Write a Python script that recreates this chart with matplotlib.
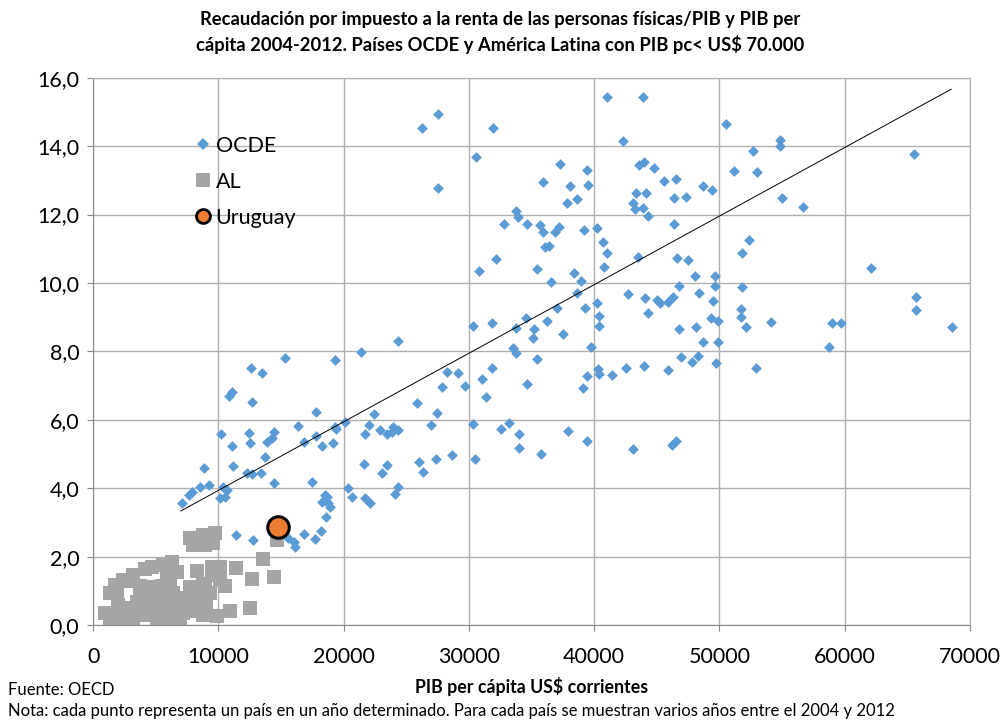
import numpy as np
import matplotlib
matplotlib.use('Agg')
import matplotlib.pyplot as plt
from matplotlib.lines import Line2D
from matplotlib.ticker import FuncFormatter

plt.rcParams['font.family'] = ['Lato', 'DejaVu Sans']

# OCDE: PIB per cápita (US$) and recaudación IRPF / PIB (%)
ocde_x = [7080, 7690, 7880, 8540, 9260, 10400, 10670, 10140, 10530, 14450, 11390, 12790,
          15320, 19310, 12610, 13510, 11120, 10880, 12710, 17770, 20110, 10220, 12450, 12530,
          11120, 14470, 16380, 16860, 13860, 14260, 17800, 18250, 19310, 13730, 8880, 11200,
          12270, 12670, 13380, 17450, 18520, 20380,
          24320, 21360, 28230, 29160, 27830, 29690, 25830, 27480, 22440, 19390, 19180, 22030,
          21710, 22910, 23490, 23970, 24370, 23830, 26970, 28630, 27350, 26020, 26360, 21650,
          23430, 23040, 24320, 24100, 20640, 21710, 22110, 18250, 18640, 18780, 18910, 18600,
          16840, 18170, 17720, 15590, 16040, 16120,
          27500, 26280, 31950, 30540, 27510, 37270, 35940, 38070, 37850, 38650, 33730, 33950,
          32800, 34610, 35670, 35940, 37210, 36870, 36070, 36390,
          39480, 39450, 39190, 40250, 40730, 41000, 43920, 50520, 54830, 54830, 42320, 52700,
          43600, 43970, 44800, 51160, 53020, 43340, 44130, 45600, 46530, 48660, 49370, 46400,
          47330, 43070, 43260, 43870, 44320, 46370, 52380,
          65520, 54990, 56690, 62060, 65730, 65730, 54140, 58950, 59670, 68530, 58770,
          51770, 46580, 47460, 48040, 49640, 49640, 46770, 51770, 44050, 44990, 45250, 45920,
          46320, 48360, 49450, 44320, 51690, 51690, 49300, 49860, 52110, 46770, 48120, 48660,
          49860, 46930, 48310, 47780, 49690, 43980, 45920, 52910, 46180, 46530,
          41000, 43470, 32160, 30810, 35410, 38410, 40810, 38920, 36550, 38600, 42670, 40250,
          39270, 37010, 40380, 40380, 34560, 36260, 31820, 30350, 33760, 35220, 35140, 37490,
          39720, 33500, 33760, 35410, 31820, 40330, 40410, 41440, 39400, 42540, 31070, 31340,
          34610, 39080, 30350, 32540, 33200, 34020, 37930, 39400, 34020, 30490, 35750, 43070]
ocde_y = [3.56, 3.80, 3.90, 4.04, 4.09, 4.04, 3.95, 3.70, 3.75, 4.14, 2.63, 2.49,
          7.80, 7.75, 7.52, 7.36, 6.82, 6.70, 6.53, 6.24, 5.94, 5.58, 5.61, 5.31,
          5.23, 5.65, 5.82, 5.36, 5.36, 5.46, 5.53, 5.23, 5.78, 4.90, 4.60, 4.65,
          4.45, 4.42, 4.45, 4.19, 3.80, 4.00,
          8.30, 7.99, 7.41, 7.38, 6.97, 7.00, 6.48, 6.19, 6.16, 5.73, 5.31, 5.85,
          5.58, 5.70, 5.58, 5.80, 5.70, 5.65, 5.85, 4.97, 4.85, 4.76, 4.47, 4.71,
          4.68, 4.44, 4.03, 3.83, 3.75, 3.70, 3.58, 3.61, 3.75, 3.56, 3.46, 3.17,
          2.66, 2.75, 2.51, 2.54, 2.44, 2.29,
          14.93, 14.54, 14.52, 13.67, 12.77, 13.48, 12.94, 12.84, 12.33, 12.45, 12.11, 11.94,
          11.73, 11.72, 11.70, 11.50, 11.65, 11.50, 11.06, 11.08,
          12.85, 13.30, 11.55, 11.60, 11.19, 15.45, 15.43, 14.65, 14.18, 13.99, 14.16, 13.86,
          13.45, 13.55, 13.35, 13.26, 13.23, 12.62, 12.62, 12.99, 13.03, 12.84, 12.72, 12.48,
          12.52, 12.33, 12.15, 12.18, 11.96, 11.73, 11.26,
          13.77, 12.48, 12.23, 10.43, 9.60, 9.21, 8.85, 8.82, 8.82, 8.72, 8.14,
          10.87, 10.72, 10.67, 10.20, 10.20, 9.91, 9.92, 9.87, 9.55, 9.50, 9.42, 9.45,
          9.60, 9.70, 9.48, 9.13, 9.23, 9.01, 8.97, 8.90, 8.70, 8.65, 8.70, 8.26,
          8.26, 7.85, 7.87, 7.68, 7.65, 7.58, 7.46, 7.50, 5.26, 5.38,
          10.89, 10.77, 10.69, 10.36, 10.41, 10.30, 10.48, 10.06, 10.02, 9.72, 9.67, 9.40,
          9.28, 9.26, 9.04, 8.75, 8.97, 8.89, 8.82, 8.74, 8.69, 8.65, 8.38, 8.51,
          8.14, 8.09, 7.94, 7.78, 7.52, 7.49, 7.33, 7.31, 7.28, 7.50, 7.18, 6.68,
          7.04, 6.92, 5.88, 5.72, 5.92, 5.58, 5.67, 5.38, 5.18, 4.84, 4.99, 5.14]

# América Latina
al_x = [7740, 8800, 9740, 8010, 8940, 9600, 14660, 13590, 6280, 5610, 4680, 4150,
        6680, 8280, 9470, 10140, 11390, 9470, 12670, 14470, 3220, 2420, 1760, 1360,
        1890, 3750, 4550, 5480, 6150, 7740, 8800, 10140, 10530, 3750, 4550, 5750,
        6410, 7740, 9340, 8940, 3490, 4420, 5210, 5880, 6680, 960, 1490, 2150,
        2690, 3490, 4150, 4810, 5350, 5750, 6280, 6940, 7210, 7740, 8280, 8800,
        9870, 10930, 12530, 1360, 2420, 3220, 5080, 6150, 6940, 2900, 4000, 5000,
        6600, 7400, 9000, 2000, 3000, 5300, 7000, 8400, 4300, 5900]
al_y = [2.54, 2.63, 2.68, 2.34, 2.34, 2.39, 2.49, 1.92, 1.85, 1.75, 1.69, 1.63,
        1.56, 1.59, 1.69, 1.69, 1.66, 1.46, 1.34, 1.39, 1.46, 1.32, 1.17, 0.93,
        0.97, 1.14, 1.12, 1.14, 1.14, 1.10, 1.20, 1.32, 1.14, 0.88, 0.88, 0.88,
        0.93, 1.02, 0.95, 1.07, 0.68, 0.73, 0.68, 0.73, 0.65, 0.34, 0.29, 0.39,
        0.29, 0.39, 0.44, 0.34, 0.49, 0.24, 0.39, 0.54, 0.34, 0.49, 0.42, 0.29,
        0.26, 0.42, 0.49, 0.15, 0.15, 0.15, 0.15, 0.15, 0.17, 0.50, 0.28, 0.95,
        0.80, 0.75, 0.55, 0.60, 1.30, 1.00, 0.62, 0.80, 0.45, 1.40]

uy_x = [14740]
uy_y = [2.87]

# tendencia lineal (OCDE)
trend_slope = 0.0002005
trend_intercept = 1.93
trend_range = [7000, 68500]

x_ticks = [0, 10000, 20000, 30000, 40000, 50000, 60000, 70000]
y_ticks = [0, 2, 4, 6, 8, 10, 12, 14, 16]

fig = plt.figure(figsize=(10.01, 7.23), dpi=100)
ax = fig.add_axes([0.093, 0.1355, 0.876, 0.757])

ax.scatter(ocde_x, ocde_y, marker='D', s=30, color='#5B9BD5', linewidths=0, zorder=3)
ax.scatter(al_x, al_y, marker='s', s=90, color='#A5A5A5', linewidths=0, zorder=2)
ax.scatter(uy_x, uy_y, marker='o', s=240, color='#ED7D31', edgecolors='black', linewidths=2.2, zorder=4)

tx = np.array(trend_range)
ax.plot(tx, trend_intercept + trend_slope * tx, color='black', lw=0.7, zorder=5)

ax.set_xlim(0, 70000)
ax.set_ylim(0, 16)
ax.set_xticks(x_ticks)
ax.set_yticks(y_ticks)
ax.yaxis.set_major_formatter(FuncFormatter(lambda v, p: f'{v:.1f}'.replace('.', ',')))
ax.tick_params(labelsize=15.5, length=4, color='#888888', pad=6)
ax.tick_params(axis='x', pad=12)
ax.grid(True, color='#AFAFAF', lw=1)
ax.set_axisbelow(True)
for s in ax.spines.values():
    s.set_color('#AFAFAF')
ax.spines['left'].set_color('#888888')
ax.spines['bottom'].set_color('#888888')

ax.set_xlabel('PIB per cápita US$ corrientes', fontsize=12.8, fontweight='bold', labelpad=7)

handles = [
    Line2D([], [], ls='none', marker='D', ms=6.5, color='#5B9BD5', mew=0),
    Line2D([], [], ls='none', marker='s', ms=9.5, color='#A5A5A5', mew=0),
    Line2D([], [], ls='none', marker='o', ms=10, mfc='#ED7D31', mec='black', mew=2),
]
ax.legend(handles, ['OCDE', 'AL', 'Uruguay'], loc='upper left', bbox_to_anchor=(0.103, 0.91),
          frameon=False, fontsize=15.5, handlelength=1.0, handletextpad=0.1,
          labelspacing=0.75, borderaxespad=0)

fig.text(0.5, 0.985, 'Recaudación por impuesto a la renta de las personas físicas/PIB y PIB per\n'
         'cápita 2004-2012. Países OCDE y América Latina con PIB pc< US$ 70.000',
         ha='center', va='top', fontsize=13.2, fontweight='bold', linespacing=1.45)
fig.text(0.008, 0.035, 'Fuente: OECD', fontsize=12, va='bottom')
fig.text(0.008, 0.005, 'Nota: cada punto representa un país en un año determinado. '
         'Para cada país se muestran varios años entre el 2004 y 2012', fontsize=12, va='bottom')

fig.savefig('out.png', dpi=100)
